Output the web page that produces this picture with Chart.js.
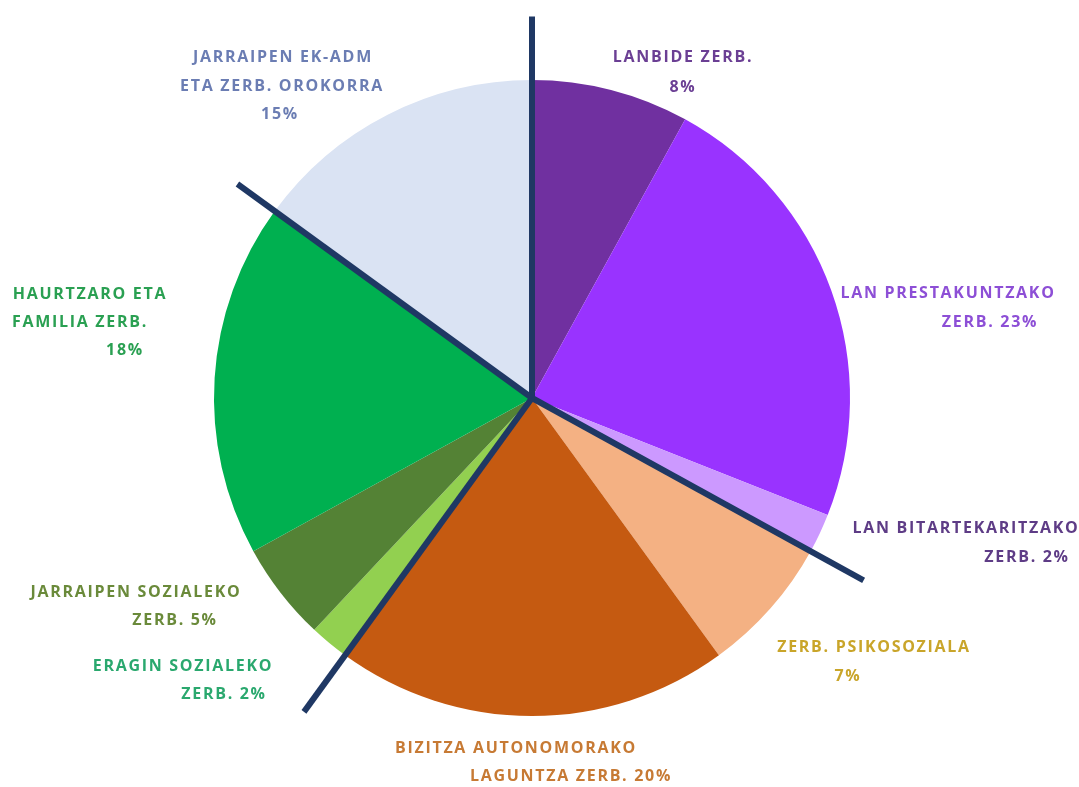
<!DOCTYPE html>
<html><head><meta charset="utf-8">
<script src="https://cdn.jsdelivr.net/npm/chart.js@4.4.1/dist/chart.umd.min.js"></script>
<style>html,body{margin:0;padding:0;background:#fff;}#wrap{width:1079px;height:787px;position:relative;}</style>
</head><body><div id="wrap"><canvas id="c" width="1079" height="787"></canvas></div>
<script>
const categories = ["LANBIDE ZERB.","LAN PRESTAKUNTZAKO ZERB.","LAN BITARTEKARITZAKO ZERB.","ZERB. PSIKOSOZIALA","BIZITZA AUTONOMORAKO LAGUNTZA ZERB.","ERAGIN SOZIALEKO ZERB.","JARRAIPEN SOZIALEKO ZERB.","HAURTZARO ETA FAMILIA ZERB.","JARRAIPEN EK-ADM ETA ZERB. OROKORRA"];
const values = [8,23,2,7,20,2,5,18,15];
const sliceColors = ["#7030a0","#9933ff","#cc99ff","#f4b183","#c55a11","#92d050","#548235","#00b050","#dae3f3"];
const labelLines = [["LANBIDE ZERB.","8%"],["LAN PRESTAKUNTZAKO","ZERB. 23%"],["LAN BITARTEKARITZAKO","ZERB. 2%"],["ZERB. PSIKOSOZIALA","7%"],["BIZITZA AUTONOMORAKO","LAGUNTZA ZERB. 20%"],["ERAGIN SOZIALEKO","ZERB. 2%"],["JARRAIPEN SOZIALEKO","ZERB. 5%"],["HAURTZARO ETA","FAMILIA ZERB.","18%"],["JARRAIPEN EK-ADM","ETA ZERB. OROKORRA","15%"]];
const labelColors = ["#6b3f94","#8d4fd6","#5e3c86","#c9a52a","#c77a34","#2aa86e","#6a8a3a","#2aa052","#6b7db3"];
// label line centres as offsets from pie centre (px)
const labelPos = [
  [[151,-341],[151,-311]],
  [[416,-105],[458,-76]],
  [[434,130],[495,159]],
  [[342,249],[316,278]],
  [[-16,350],[39,378]],
  [[-349,268],[-308,296]],
  [[-396,194],[-357,222]],
  [[-442,-104],[-452,-76],[-407,-48]],
  [[-249,-341],[-250,-312],[-252,-284]]
];
// group divider lines: slice index whose start angle they follow, and length factor of radius
const dividerSlices = [0,3,5,8];
const dividerLen = [1.2,1.19,1.22,1.145];

const overlay = {
  id:'overlay',
  afterDatasetsDraw(chart){
    const ctx = chart.ctx;
    const arcs = chart.getDatasetMeta(0).data;
    const cx = arcs[0].x, cy = arcs[0].y, r = arcs[0].outerRadius;
    ctx.save();
    ctx.strokeStyle = '#1f3864';
    ctx.lineWidth = 6;
    ctx.lineCap = 'butt';
    dividerSlices.forEach((si,k)=>{
      const a = arcs[si].startAngle;
      const L = r*dividerLen[k];
      ctx.beginPath();
      ctx.moveTo(cx,cy);
      ctx.lineTo(cx+Math.cos(a)*L, cy+Math.sin(a)*L);
      ctx.stroke();
    });
    ctx.font = 'bold 16px "Open Sans", sans-serif';
    if ('letterSpacing' in ctx) ctx.letterSpacing = '1.7px';
    ctx.textAlign = 'center';
    ctx.textBaseline = 'middle';
    labelLines.forEach((lines,i)=>{
      ctx.fillStyle = labelColors[i];
      lines.forEach((t,j)=>{
        const p = labelPos[i][j];
        ctx.fillText(t, cx+p[0], cy+p[1]);
      });
    });
    ctx.restore();
  }
};

new Chart(document.getElementById('c'),{
  type:'pie',
  data:{labels:categories,datasets:[{data:values,backgroundColor:sliceColors,borderWidth:0}]},
  options:{
    responsive:false,animation:false,
    layout:{padding:{left:214,right:229,top:80,bottom:71}},
    plugins:{legend:{display:false},tooltip:{enabled:false}}
  },
  plugins:[overlay]
});
</script></body></html>
